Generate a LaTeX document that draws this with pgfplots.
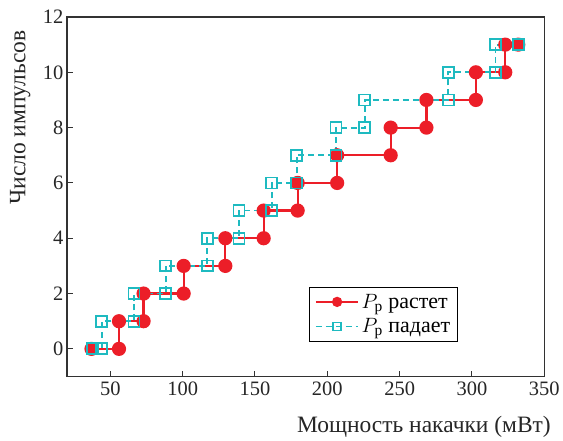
\documentclass[border=0pt]{standalone}
\usepackage{fontspec}
\setmainfont{Liberation Serif}
\usepackage{pgfplots}
\pgfplotsset{compat=1.18}
\definecolor{cred}{RGB}{236,30,40}
\definecolor{ccyan}{RGB}{30,186,192}
\definecolor{axgray}{RGB}{50,50,50}
\begin{document}
\begin{tikzpicture}
\begin{axis}[
  scale only axis, width=478pt, height=360pt,
  xmin=20, xmax=350, ymin=-1, ymax=12,
  xtick={50,100,...,350}, ytick={0,2,...,12},
  tick align=inside, xtick pos=bottom, ytick pos=left,
  major tick length=6pt,
  axis line style={axgray, line width=1.5pt},
  tick style={axgray, line width=1pt},
  /pgf/number format/assume math mode=true,
  ticklabel style={font=\fontsize{20.5}{22}\selectfont, text=black!85},
  xticklabel style={yshift=-2pt},
  xlabel={Мощность накачки (мВт)},
  ylabel={Число импульсов},
  label style={font=\fontsize{23.5}{26}\selectfont, text=black!85},
  xlabel style={at={(axis description cs:1.021,-0.14)}, anchor=east},
  ylabel style={at={(axis description cs:-0.098,0.72)}, anchor=center},
  legend style={at={(axis description cs:0.818,0.097)}, anchor=south east,
    draw=black, line width=0.6pt, font=\fontsize{22}{24}\selectfont,
    inner xsep=5pt, inner ysep=5pt, row sep=5pt},
  legend cell align=left,
  legend image code/.code={\draw[mark repeat=2,mark phase=2,#1] plot coordinates {(0cm,0cm) (0.75cm,0cm) (1.5cm,0cm)};},
  legend image post style={mark size=4pt},
]
\addplot[cred, line width=2.2pt, mark=*, mark size=6pt, mark options={solid, fill=cred}] coordinates {
(37,0) (56,0) (56,1) (73,1) (73,2) (100.7,2) (100.7,3) (129.5,3) (129.5,4)
(156,4) (156,5) (179.5,5) (179.5,6) (206.8,6) (206.8,7) (243.8,7) (243.8,8)
(268.5,8) (268.5,9) (302.7,9) (302.7,10) (323,10) (323,11) (332,11)
};
\addlegendentry{$P_{\mbox{\fontsize{15.5}{16}\selectfont р}}$ растет}
\addplot[ccyan, line width=1.8pt, dash pattern=on 6pt off 4pt, mark=square, mark size=5.5pt, mark options={solid, line width=1.8pt}] coordinates {
(37.7,0) (44,0) (44,1) (66.4,1) (66.4,2) (88.4,2) (88.4,3) (117,3) (117,4)
(139,4) (139,5) (161.5,5) (161.5,6) (178.8,6) (178.8,7) (206,7) (206,8)
(225.8,8) (225.8,9) (283.6,9) (283.6,10) (316.2,10) (316.2,11) (332.2,11)
};
\addlegendentry{$P_{\mbox{\fontsize{15.5}{16}\selectfont р}}$ падает}
\end{axis}
\path (current axis.south west) ++(-67pt,-62pt) rectangle ++(563pt,439pt);
\end{tikzpicture}
\end{document}
